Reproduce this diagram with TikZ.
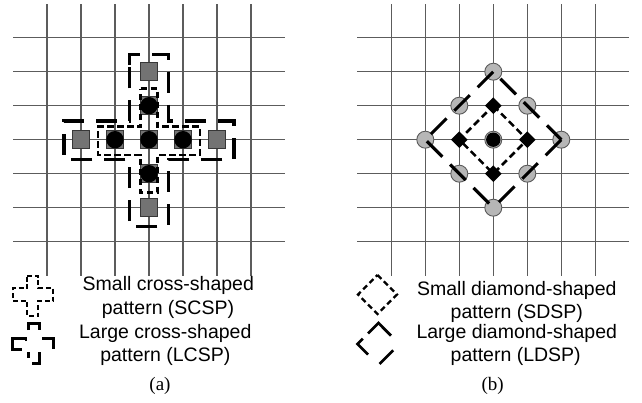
\documentclass[tikz,border=0pt]{standalone}
\usepackage{fontspec}
\setmainfont{Liberation Serif}
\newfontfamily\arialf{Liberation Sans}
\definecolor{gridc}{RGB}{92,92,92}
\definecolor{sqfill}{RGB}{115,115,115}
\definecolor{sqedge}{RGB}{55,55,55}
\definecolor{lgfill}{RGB}{182,182,182}
\definecolor{lgedge}{RGB}{90,90,90}
\tikzset{
  gridline/.style={draw=gridc, line width=1.25pt},
  sqbox/.style={fill=sqfill, draw=sqedge, line width=0.8pt},
  lgcircle/.style={fill=lgfill, draw=lgedge, line width=0.9pt},
  smalldash/.style={line width=2.6pt, dash pattern=on 6.5pt off 3.5pt},
  largedash/.style={line width=3.1pt, dash pattern=on 21pt off 12pt},
  largedia/.style={line width=3.1pt, dash pattern=on 22pt off 11pt},
  smalldia/.style={line width=2.6pt, dash pattern=on 7pt off 4pt},
  iconsmall/.style={line width=2.3pt, dash pattern=on 5pt off 2.8pt},
  iconlarge/.style={line width=2.8pt},
  legendtext/.style={font=\arialf\fontsize{19.5}{23}\selectfont, anchor=base, inner sep=0pt},
  captext/.style={font=\fontsize{19}{22}\selectfont, anchor=base, inner sep=0pt}
}
\begin{document}
\begin{tikzpicture}[x=1pt,y=-1pt]
\useasboundingbox (0,0) rectangle (642,403);

% ---------------- (a) cross-shaped patterns ----------------
\begin{scope}[shift={(149pt,-139.7pt)}, x=34pt, y=34pt]
  \foreach \i in {-3,...,3} {
    \draw[gridline] (-4,\i) -- (4,\i);
    \draw[gridline] (\i,-4) -- (\i,4);
  }
  \foreach \p in {(0,0),(1,0),(-1,0),(0,1),(0,-1),(2,0),(-2,0),(0,2),(0,-2)}
    \filldraw[sqbox] \p ++(-8.8pt,-8.8pt) rectangle ++(17.6pt,17.6pt);
  \foreach \p in {(0,0),(1,0),(-1,0),(0,1),(0,-1)}
    \fill[black] \p circle[radius=8.7pt];
  % small cross-shaped pattern
  \draw[smalldash] (-0.25,1.5) -- (0.25,1.5) -- (0.25,0.38) -- (1.5,0.38) -- (1.5,-0.45)
     -- (0.25,-0.45) -- (0.25,-1.55) -- (-0.25,-1.55) -- (-0.25,-0.45) -- (-1.5,-0.45)
     -- (-1.5,0.38) -- (-0.25,0.38) -- cycle;
  % large cross-shaped pattern
  \draw[largedash] (-0.57,2.2) -- (-0.57,2.5) -- (0.57,2.5) -- (0.57,0.55) -- (2.5,0.55)
     -- (2.5,-0.58) -- (0.57,-0.58) -- (0.57,-2.55) -- (-0.57,-2.55) -- (-0.57,-0.58)
     -- (-2.5,-0.58) -- (-2.5,0.55) -- (-0.57,0.55) -- cycle;
\end{scope}

% ---------------- (b) diamond-shaped patterns ----------------
\begin{scope}[shift={(493.3pt,-139.7pt)}, x=34pt, y=34pt]
  \foreach \i in {-3,...,3} {
    \draw[gridline] (-4,\i) -- (4,\i);
    \draw[gridline] (\i,-4) -- (\i,4);
  }
  \foreach \p in {(0,0),(0,2),(0,-2),(2,0),(-2,0),(1,1),(1,-1),(-1,1),(-1,-1)}
    \filldraw[lgcircle] \p circle[radius=8.5pt];
  % large diamond-shaped pattern
  \draw[largedia, dash phase=25pt] (-2,0) -- (0,2);
  \draw[largedia, dash phase=23pt] (0,2) -- (2,0);
  \draw[largedia, dash phase=25pt] (0,-2) -- (2,0);
  \draw[largedia, dash phase=27pt] (0,-2) -- (-2,0);
  % small diamond-shaped pattern
  \draw[smalldia] (0,1) -- (1,0) -- (0,-1) -- (-1,0) -- cycle;
  \foreach \p in {(0,1),(1,0),(0,-1),(-1,0)}
    \fill[black] \p +(0,8.3pt) -- +(8.3pt,0) -- +(0,-8.3pt) -- +(-8.3pt,0) -- cycle;
  \fill[black] (0,0) circle[radius=7.2pt];
\end{scope}

% ---------------- legend icons ----------------
\draw[iconsmall] (27.3,275.7) -- (38.3,275.7) -- (38.3,288.3) -- (53.3,288.3) -- (53.3,300.7)
   -- (38.3,300.7) -- (38.3,316) -- (27.3,316) -- (27.3,300.7) -- (12.7,300.7)
   -- (12.7,288.3) -- (27.3,288.3) -- cycle;
% large cross icon pieces
\draw[iconlarge] (28.3,330) -- (28.3,323.3) -- (39.3,323.3) -- (39.3,330);
\draw[iconlarge] (26,341) -- (26,338.3) -- (12.7,338.3) -- (12.7,349.3) -- (22,349.3);
\draw[iconlarge] (42,338.3) -- (53.3,338.3) -- (53.3,348.5);
\draw[iconlarge] (39.3,352) -- (39.3,363.3) -- (32,363.3);
\draw[iconlarge] (28.3,352) -- (28.3,358);

\draw[line width=2.4pt, dash pattern=on 5.5pt off 3.5pt]
   (377.5,275) -- (397,294.5) -- (377.5,314) -- (358,294.5) -- cycle;
% large diamond icon pieces
\draw[iconlarge] (368,333.5) -- (378.5,323) -- (379.5,324);
\draw[iconlarge] (379.5,324) -- (391,335.6);
\draw[iconlarge] (362.8,338.7) -- (357.5,344) -- (368,354.5);
\draw[iconlarge] (393.2,350.3) -- (379.6,363.9);

% ---------------- texts ----------------
\node[legendtext] (t1) at (168.3,290) {Small cross-shaped};
\node[legendtext] (t2) at (168,314.5) {pattern (SCSP)};
\node[legendtext] (t3) at (165.3,338.3) {Large cross-shaped};
\node[legendtext] (t4) at (165.3,361.7) {pattern (LCSP)};
\node[captext] (ca) at (160,390) {(a)};
\node[legendtext] (t5) at (516.8,295) {Small diamond-shaped};
\node[legendtext] (t6) at (516.8,318.3) {pattern (SDSP)};
\node[legendtext] (t7) at (516.8,338.3) {Large diamond-shaped};
\node[legendtext] (t8) at (515.7,361.7) {pattern (LDSP)};
\node[captext] (cb) at (492.7,390) {(b)};
\end{tikzpicture}
\end{document}
